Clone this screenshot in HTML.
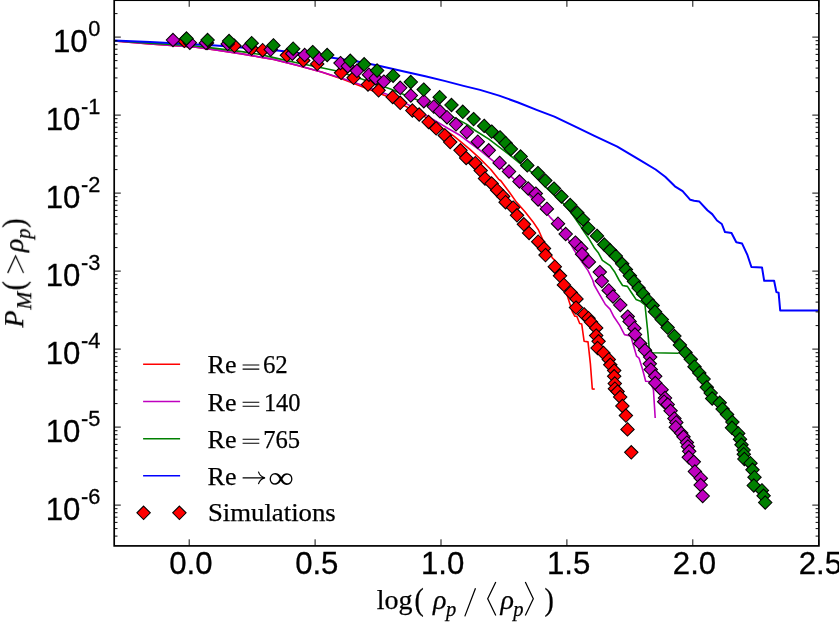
<!DOCTYPE html><html><head><meta charset="utf-8"><style>html,body{margin:0;padding:0;background:#fff}svg{display:block}</style></head><body><svg width="839" height="623" viewBox="0 0 839 623">
<rect width="839" height="623" fill="#fff"/>
<defs><path id="d" d="M0 -6.7L6.7 0L0 6.7L-6.7 0z"/><filter id="n" x="0" y="0" width="100%" height="100%" filterUnits="userSpaceOnUse"><feOffset dx="0" dy="0"/></filter><clipPath id="c"><rect x="114.2" y="0" width="704.7" height="545.9"/></clipPath></defs>
<g clip-path="url(#c)">
<polyline fill="none" stroke="#ff0000" stroke-width="1.6" stroke-linejoin="round" points="113.9,41.0 150.0,44.0 195.9,47.3 215.6,49.9 241.8,53.9 258.8,56.9 273.8,59.5 297.7,65.5 321.5,72.1 342.9,79.3 386.2,96.1 406.5,106.8 425.0,116.9 444.3,129.5 453.9,136.2 460.0,141.1 469.6,149.2 479.2,157.9 490.8,169.5 498.5,179.1 501.0,181.0 509.6,192.5 516.4,202.1 525.0,211.8 532.7,221.4 538.5,230.0 542.7,239.6 552.3,257.9 557.1,262.7 568.2,298.5 572.5,311.9 574.9,316.3 576.8,316.3 579.7,323.5 581.7,324.0 584.1,341.2 588.0,341.9 590.4,363.9 592.3,388.9 594.7,389.1"/>
<polyline fill="none" stroke="#bf00bf" stroke-width="1.6" stroke-linejoin="round" points="113.9,41.0 150.0,44.0 195.9,47.3 215.6,49.9 241.8,53.9 258.8,56.9 273.8,59.4 297.7,65.4 321.5,71.9 348.9,80.4 386.2,93.9 407.7,104.4 428.9,116.9 448.1,128.5 460.0,135.3 469.6,142.5 479.2,149.7 491.8,159.8 502.3,168.5 512.9,178.1 522.1,186.7 531.8,198.3 540.4,206.0 550.0,217.1 561.6,229.1 567.7,238.7 573.5,249.2 581.2,260.8 587.9,270.4 592.7,280.0 594.2,285.0 598.5,292.7 605.2,304.2 610.0,309.1 613.9,316.8 619.7,325.4 624.5,334.6 630.8,336.0 632.7,342.7 636.6,356.2 639.0,358.1 642.4,368.7 645.7,381.2 650.0,381.5 653.4,389.4 655.2,418.0"/>
<polyline fill="none" stroke="#008000" stroke-width="1.6" stroke-linejoin="round" points="113.9,40.7 150.0,43.1 195.9,46.0 215.6,48.4 241.8,51.6 258.8,54.3 273.8,57.6 297.7,63.0 321.5,67.8 335.8,70.8 358.8,78.0 390.5,88.9 401.9,93.8 416.4,99.6 427.9,104.9 454.9,117.9 467.4,124.6 474.4,130.0 488.9,139.1 503.3,150.2 512.0,156.9 519.7,163.2 531.2,171.9 546.2,187.7 563.5,203.6 571.2,212.7 579.9,225.2 584.1,231.9 588.9,238.7 594.7,248.3 598.5,253.1 602.4,260.3 610.1,265.6 614.9,272.3 619.0,280.0 622.6,285.5 627.4,286.4 631.2,292.2 636.0,299.4 639.9,300.9 645.0,305.0 648.1,335.0 649.1,347.5 652.0,352.8 678.7,353.2"/>
<polyline fill="none" stroke="#0000ff" stroke-width="2.0" stroke-linejoin="round" points="113.9,40.4 150.0,42.1 215.6,45.5 241.8,47.4 279.8,50.7 310.0,54.4 333.8,58.0 357.3,61.6 377.7,65.6 406.3,71.9 425.3,76.3 444.4,80.9 463.5,85.9 480.0,89.9 499.1,95.6 518.1,102.5 537.2,110.1 554.4,116.6 575.3,126.7 594.4,135.9 617.3,146.7 640.0,160.1 655.6,169.5 665.2,176.7 674.9,186.3 682.6,191.2 690.3,199.8 694.1,200.8 699.4,201.6 707.4,210.2 712.2,214.1 717.0,220.5 721.8,224.0 725.0,232.1 731.5,233.0 736.3,242.3 742.1,243.6 747.5,255.2 751.4,267.0 762.0,267.4 764.2,280.8 774.1,280.8 776.4,292.1 778.6,292.7 780.2,310.4 818.9,310.4"/>
<g fill="#ff0000" stroke="#000" stroke-width="1.05"><use href="#d" x="184.3" y="40.9"/><use href="#d" x="207.0" y="43.0"/><use href="#d" x="234.4" y="45.8"/><use href="#d" x="251.6" y="48.6"/><use href="#d" x="262.7" y="50.2"/><use href="#d" x="286.9" y="55.3"/><use href="#d" x="303.3" y="60.4"/><use href="#d" x="317.2" y="63.9"/><use href="#d" x="341.1" y="72.8"/><use href="#d" x="353.6" y="77.8"/><use href="#d" x="368.0" y="84.5"/><use href="#d" x="378.6" y="90.3"/><use href="#d" x="392.7" y="97.0"/><use href="#d" x="400.2" y="102.8"/><use href="#d" x="412.4" y="110.5"/><use href="#d" x="419.2" y="114.5"/><use href="#d" x="428.6" y="122.0"/><use href="#d" x="436.2" y="128.4"/><use href="#d" x="444.8" y="135.4"/><use href="#d" x="450.2" y="142.1"/><use href="#d" x="460.5" y="150.3"/><use href="#d" x="466.2" y="158.0"/><use href="#d" x="475.3" y="163.2"/><use href="#d" x="480.7" y="170.6"/><use href="#d" x="485.0" y="178.5"/><use href="#d" x="491.6" y="183.5"/><use href="#d" x="497.2" y="190.2"/><use href="#d" x="503.1" y="196.4"/><use href="#d" x="505.6" y="202.2"/><use href="#d" x="513.1" y="207.6"/><use href="#d" x="517.0" y="215.3"/><use href="#d" x="523.9" y="224.3"/><use href="#d" x="529.1" y="233.0"/><use href="#d" x="538.2" y="241.7"/><use href="#d" x="544.0" y="248.4"/><use href="#d" x="545.5" y="255.1"/><use href="#d" x="554.8" y="266.7"/><use href="#d" x="560.0" y="275.8"/><use href="#d" x="563.9" y="284.9"/><use href="#d" x="570.7" y="292.6"/><use href="#d" x="576.5" y="298.9"/><use href="#d" x="576.0" y="307.6"/><use href="#d" x="584.1" y="314.4"/><use href="#d" x="588.5" y="318.2"/><use href="#d" x="591.0" y="322.0"/><use href="#d" x="596.2" y="327.9"/><use href="#d" x="596.2" y="335.6"/><use href="#d" x="598.6" y="341.3"/><use href="#d" x="597.6" y="348.0"/><use href="#d" x="603.4" y="352.9"/><use href="#d" x="608.8" y="359.4"/><use href="#d" x="610.3" y="364.8"/><use href="#d" x="614.2" y="370.6"/><use href="#d" x="614.2" y="376.3"/><use href="#d" x="614.8" y="383.5"/><use href="#d" x="614.9" y="388.7"/><use href="#d" x="617.6" y="391.6"/><use href="#d" x="620.2" y="397.0"/><use href="#d" x="622.4" y="406.0"/><use href="#d" x="625.9" y="415.6"/><use href="#d" x="627.5" y="429.4"/><use href="#d" x="631.3" y="452.3"/></g>
<g fill="#bf00bf" stroke="#000" stroke-width="1.05"><use href="#d" x="173.0" y="40.0"/><use href="#d" x="189.8" y="42.7"/><use href="#d" x="205.9" y="42.9"/><use href="#d" x="227.7" y="43.9"/><use href="#d" x="248.7" y="46.7"/><use href="#d" x="270.7" y="49.6"/><use href="#d" x="292.3" y="53.7"/><use href="#d" x="304.7" y="55.0"/><use href="#d" x="319.2" y="58.6"/><use href="#d" x="340.5" y="63.1"/><use href="#d" x="347.8" y="66.2"/><use href="#d" x="356.9" y="70.8"/><use href="#d" x="369.0" y="74.7"/><use href="#d" x="375.7" y="78.2"/><use href="#d" x="383.8" y="81.6"/><use href="#d" x="400.2" y="87.8"/><use href="#d" x="410.8" y="95.5"/><use href="#d" x="423.8" y="101.2"/><use href="#d" x="433.8" y="106.6"/><use href="#d" x="440.0" y="111.4"/><use href="#d" x="447.0" y="117.2"/><use href="#d" x="456.0" y="124.3"/><use href="#d" x="466.8" y="132.0"/><use href="#d" x="477.8" y="141.7"/><use href="#d" x="488.8" y="150.3"/><use href="#d" x="499.6" y="162.9"/><use href="#d" x="509.0" y="171.5"/><use href="#d" x="519.5" y="181.5"/><use href="#d" x="528.2" y="188.5"/><use href="#d" x="535.8" y="193.6"/><use href="#d" x="538.1" y="199.5"/><use href="#d" x="546.9" y="208.9"/><use href="#d" x="558.0" y="223.7"/><use href="#d" x="565.7" y="234.0"/><use href="#d" x="575.4" y="242.6"/><use href="#d" x="581.2" y="248.4"/><use href="#d" x="582.1" y="254.2"/><use href="#d" x="588.9" y="261.9"/><use href="#d" x="599.8" y="272.1"/><use href="#d" x="601.8" y="281.1"/><use href="#d" x="608.7" y="290.4"/><use href="#d" x="613.0" y="296.5"/><use href="#d" x="620.3" y="305.0"/><use href="#d" x="627.7" y="316.6"/><use href="#d" x="629.6" y="321.4"/><use href="#d" x="634.4" y="328.2"/><use href="#d" x="635.0" y="334.5"/><use href="#d" x="640.2" y="343.6"/><use href="#d" x="645.0" y="350.3"/><use href="#d" x="650.2" y="357.1"/><use href="#d" x="649.8" y="363.8"/><use href="#d" x="650.8" y="369.6"/><use href="#d" x="655.2" y="376.3"/><use href="#d" x="655.3" y="383.0"/><use href="#d" x="661.6" y="389.7"/><use href="#d" x="665.0" y="398.0"/><use href="#d" x="664.2" y="401.7"/><use href="#d" x="667.7" y="404.5"/><use href="#d" x="670.6" y="410.8"/><use href="#d" x="674.4" y="418.5"/><use href="#d" x="676.3" y="422.4"/><use href="#d" x="675.8" y="427.2"/><use href="#d" x="681.2" y="433.0"/><use href="#d" x="683.5" y="436.8"/><use href="#d" x="686.9" y="442.6"/><use href="#d" x="687.9" y="446.5"/><use href="#d" x="689.2" y="451.3"/><use href="#d" x="688.8" y="457.3"/><use href="#d" x="693.8" y="461.8"/><use href="#d" x="694.9" y="471.5"/><use href="#d" x="700.8" y="478.2"/><use href="#d" x="700.7" y="485.0"/><use href="#d" x="702.7" y="496.0"/></g>
<g fill="#008000" stroke="#000" stroke-width="1.05"><use href="#d" x="186.5" y="38.5"/><use href="#d" x="207.6" y="40.0"/><use href="#d" x="229.1" y="41.0"/><use href="#d" x="251.7" y="43.2"/><use href="#d" x="273.4" y="45.4"/><use href="#d" x="293.2" y="48.7"/><use href="#d" x="312.7" y="52.1"/><use href="#d" x="327.2" y="55.0"/><use href="#d" x="350.3" y="60.8"/><use href="#d" x="364.2" y="64.3"/><use href="#d" x="377.1" y="70.5"/><use href="#d" x="393.1" y="75.7"/><use href="#d" x="410.8" y="82.0"/><use href="#d" x="423.7" y="89.6"/><use href="#d" x="439.7" y="97.2"/><use href="#d" x="451.5" y="105.0"/><use href="#d" x="462.8" y="111.8"/><use href="#d" x="473.6" y="119.1"/><use href="#d" x="484.2" y="125.9"/><use href="#d" x="491.7" y="131.6"/><use href="#d" x="500.0" y="137.4"/><use href="#d" x="505.7" y="143.2"/><use href="#d" x="510.9" y="149.0"/><use href="#d" x="520.6" y="156.5"/><use href="#d" x="527.3" y="165.4"/><use href="#d" x="537.9" y="173.1"/><use href="#d" x="545.3" y="180.6"/><use href="#d" x="554.0" y="188.6"/><use href="#d" x="561.5" y="196.5"/><use href="#d" x="570.2" y="205.0"/><use href="#d" x="577.3" y="212.8"/><use href="#d" x="583.1" y="219.5"/><use href="#d" x="588.3" y="228.2"/><use href="#d" x="597.0" y="235.9"/><use href="#d" x="604.3" y="244.5"/><use href="#d" x="610.1" y="250.3"/><use href="#d" x="615.8" y="256.1"/><use href="#d" x="622.2" y="263.8"/><use href="#d" x="625.9" y="269.6"/><use href="#d" x="629.9" y="275.8"/><use href="#d" x="634.0" y="281.5"/><use href="#d" x="638.6" y="288.1"/><use href="#d" x="643.1" y="293.9"/><use href="#d" x="647.9" y="300.2"/><use href="#d" x="652.7" y="305.6"/><use href="#d" x="655.0" y="311.8"/><use href="#d" x="661.8" y="319.5"/><use href="#d" x="667.6" y="327.6"/><use href="#d" x="674.4" y="336.0"/><use href="#d" x="679.9" y="345.1"/><use href="#d" x="685.5" y="352.6"/><use href="#d" x="690.8" y="359.3"/><use href="#d" x="694.5" y="366.7"/><use href="#d" x="699.3" y="372.9"/><use href="#d" x="703.6" y="379.0"/><use href="#d" x="706.8" y="387.3"/><use href="#d" x="710.7" y="393.0"/><use href="#d" x="712.2" y="398.5"/><use href="#d" x="719.7" y="402.8"/><use href="#d" x="722.6" y="409.1"/><use href="#d" x="727.1" y="414.6"/><use href="#d" x="732.4" y="422.0"/><use href="#d" x="732.0" y="427.8"/><use href="#d" x="738.2" y="433.4"/><use href="#d" x="740.0" y="439.2"/><use href="#d" x="741.5" y="444.8"/><use href="#d" x="743.6" y="450.0"/><use href="#d" x="743.8" y="454.2"/><use href="#d" x="744.4" y="459.0"/><use href="#d" x="750.5" y="463.2"/><use href="#d" x="752.5" y="469.8"/><use href="#d" x="754.5" y="477.2"/><use href="#d" x="753.8" y="485.5"/><use href="#d" x="761.9" y="490.4"/><use href="#d" x="763.6" y="495.8"/><use href="#d" x="765.2" y="502.5"/></g>
</g>
<path d="M189.2 545.9v-6.6M189.2 0.2v6.6M315.1 545.9v-6.6M315.1 0.2v6.6M441.0 545.9v-6.6M441.0 0.2v6.6M566.9 545.9v-6.6M566.9 0.2v6.6M692.8 545.9v-6.6M692.8 0.2v6.6M818.7 545.9v-6.6M818.7 0.2v6.6M114.2 37.1h6.6M818.9 37.1h-6.6M114.2 115.1h6.6M818.9 115.1h-6.6M114.2 193.1h6.6M818.9 193.1h-6.6M114.2 271.1h6.6M818.9 271.1h-6.6M114.2 349.1h6.6M818.9 349.1h-6.6M114.2 427.1h6.6M818.9 427.1h-6.6M114.2 505.1h6.6M818.9 505.1h-6.6" stroke="#000" stroke-width="0.95" fill="none"/>
<path d="M114.2 13.6h3.3M818.9 13.6h-3.3M114.2 91.6h3.3M818.9 91.6h-3.3M114.2 77.9h3.3M818.9 77.9h-3.3M114.2 68.1h3.3M818.9 68.1h-3.3M114.2 60.6h3.3M818.9 60.6h-3.3M114.2 54.4h3.3M818.9 54.4h-3.3M114.2 49.2h3.3M818.9 49.2h-3.3M114.2 44.7h3.3M818.9 44.7h-3.3M114.2 40.7h3.3M818.9 40.7h-3.3M114.2 169.6h3.3M818.9 169.6h-3.3M114.2 155.9h3.3M818.9 155.9h-3.3M114.2 146.1h3.3M818.9 146.1h-3.3M114.2 138.6h3.3M818.9 138.6h-3.3M114.2 132.4h3.3M818.9 132.4h-3.3M114.2 127.2h3.3M818.9 127.2h-3.3M114.2 122.7h3.3M818.9 122.7h-3.3M114.2 118.7h3.3M818.9 118.7h-3.3M114.2 247.6h3.3M818.9 247.6h-3.3M114.2 233.9h3.3M818.9 233.9h-3.3M114.2 224.1h3.3M818.9 224.1h-3.3M114.2 216.6h3.3M818.9 216.6h-3.3M114.2 210.4h3.3M818.9 210.4h-3.3M114.2 205.2h3.3M818.9 205.2h-3.3M114.2 200.7h3.3M818.9 200.7h-3.3M114.2 196.7h3.3M818.9 196.7h-3.3M114.2 325.6h3.3M818.9 325.6h-3.3M114.2 311.9h3.3M818.9 311.9h-3.3M114.2 302.1h3.3M818.9 302.1h-3.3M114.2 294.6h3.3M818.9 294.6h-3.3M114.2 288.4h3.3M818.9 288.4h-3.3M114.2 283.2h3.3M818.9 283.2h-3.3M114.2 278.7h3.3M818.9 278.7h-3.3M114.2 274.7h3.3M818.9 274.7h-3.3M114.2 403.6h3.3M818.9 403.6h-3.3M114.2 389.9h3.3M818.9 389.9h-3.3M114.2 380.1h3.3M818.9 380.1h-3.3M114.2 372.6h3.3M818.9 372.6h-3.3M114.2 366.4h3.3M818.9 366.4h-3.3M114.2 361.2h3.3M818.9 361.2h-3.3M114.2 356.7h3.3M818.9 356.7h-3.3M114.2 352.7h3.3M818.9 352.7h-3.3M114.2 481.6h3.3M818.9 481.6h-3.3M114.2 467.9h3.3M818.9 467.9h-3.3M114.2 458.1h3.3M818.9 458.1h-3.3M114.2 450.6h3.3M818.9 450.6h-3.3M114.2 444.4h3.3M818.9 444.4h-3.3M114.2 439.2h3.3M818.9 439.2h-3.3M114.2 434.7h3.3M818.9 434.7h-3.3M114.2 430.7h3.3M818.9 430.7h-3.3M114.2 536.1h3.3M818.9 536.1h-3.3M114.2 528.6h3.3M818.9 528.6h-3.3M114.2 522.4h3.3M818.9 522.4h-3.3M114.2 517.2h3.3M818.9 517.2h-3.3M114.2 512.7h3.3M818.9 512.7h-3.3M114.2 508.7h3.3M818.9 508.7h-3.3" stroke="#000" stroke-width="0.95" fill="none"/>
<rect x="114.2" y="0.2" width="704.7" height="545.7" fill="none" stroke="#000" stroke-width="1.7"/>
<g filter="url(#n)">
<g font-family="Liberation Sans, sans-serif" fill="#000" stroke="#000" stroke-width="0.3">
<text transform="translate(190.9,574.1) scale(0.990,1)" font-size="31.5" text-anchor="middle">0.0</text>
<text transform="translate(316.8,574.1) scale(0.990,1)" font-size="31.5" text-anchor="middle">0.5</text>
<text transform="translate(442.7,574.1) scale(0.990,1)" font-size="31.5" text-anchor="middle">1.0</text>
<text transform="translate(568.6,574.1) scale(0.990,1)" font-size="31.5" text-anchor="middle">1.5</text>
<text transform="translate(694.5,574.1) scale(0.990,1)" font-size="31.5" text-anchor="middle">2.0</text>
<text transform="translate(820.4,574.1) scale(0.990,1)" font-size="31.5" text-anchor="middle">2.5</text>
<text transform="translate(100.3,51.8) scale(0.990,1)" text-anchor="end" font-size="31.5">10<tspan font-size="22" dx="0.6" dy="-15.6">0</tspan></text>
<text transform="translate(100.3,129.8) scale(0.990,1)" text-anchor="end" font-size="31.5">10<tspan font-size="22" dx="0.6" dy="-15.6">-1</tspan></text>
<text transform="translate(100.3,207.8) scale(0.990,1)" text-anchor="end" font-size="31.5">10<tspan font-size="22" dx="0.6" dy="-15.6">-2</tspan></text>
<text transform="translate(100.3,285.8) scale(0.990,1)" text-anchor="end" font-size="31.5">10<tspan font-size="22" dx="0.6" dy="-15.6">-3</tspan></text>
<text transform="translate(100.3,363.8) scale(0.990,1)" text-anchor="end" font-size="31.5">10<tspan font-size="22" dx="0.6" dy="-15.6">-4</tspan></text>
<text transform="translate(100.3,441.8) scale(0.990,1)" text-anchor="end" font-size="31.5">10<tspan font-size="22" dx="0.6" dy="-15.6">-5</tspan></text>
<text transform="translate(100.3,519.8) scale(0.990,1)" text-anchor="end" font-size="31.5">10<tspan font-size="22" dx="0.6" dy="-15.6">-6</tspan></text>
</g>
<g stroke-width="1.5" fill="none">
<path d="M143.1 364.3H180.1" stroke="#ff0000"/>
<path d="M143.1 401.5H180.1" stroke="#bf00bf"/>
<path d="M143.1 438.7H180.1" stroke="#008000"/>
<path d="M143.1 475.8H180.1" stroke="#0000ff"/>
</g>
<g fill="#ff0000" stroke="#000" stroke-width="1.05"><use href="#d" x="143.6" y="512.8"/><use href="#d" x="179.4" y="512.8"/></g>
<g font-family="Liberation Serif, serif" font-size="26" fill="#000" stroke="#000" stroke-width="0.25">
<text x="207.6" y="373.3">Re</text>
<path d="M242.6 365.0H259.3M242.6 369.1H259.3" stroke-width="1.05" fill="none"/>
<text x="262.9" y="373.3" textLength="24.9" lengthAdjust="spacingAndGlyphs">62</text>
<text x="207.6" y="410.5">Re</text>
<path d="M242.6 402.2H259.3M242.6 406.3H259.3" stroke-width="1.05" fill="none"/>
<text x="263.9" y="410.5" textLength="36.6" lengthAdjust="spacingAndGlyphs">140</text>
<text x="207.6" y="447.5">Re</text>
<path d="M242.6 439.2H259.3M242.6 443.3H259.3" stroke-width="1.05" fill="none"/>
<text x="263.2" y="447.5" textLength="36.9" lengthAdjust="spacingAndGlyphs">765</text>
<text x="207.6" y="484.8">Re</text>
<path d="M242.6 477.9H264.4M258.4 471.6C259.4 475.0 261.8 477.1 265 477.9C261.8 478.7 259.4 480.8 258.4 484.2" stroke-width="1.15" fill="none"/>
<text transform="translate(268.3,487.5) scale(1.38,1.2)" stroke="none">∞</text>
<text x="207.9" y="520.7" textLength="127.9" lengthAdjust="spacingAndGlyphs">Simulations</text>
</g>
<g font-family="Liberation Serif, serif" font-size="28" fill="#000" stroke="#000" stroke-width="0.25">
<text x="376.7" y="609.2">log</text>
<text transform="translate(414.6,602.3) scale(1,1.155) translate(0,6.9)">(</text>
<text x="433" y="609.2" font-style="italic">ρ</text>
<text x="446" y="616" font-style="italic" font-size="20.5">p</text>
<path d="M464.8 616.4L475.5 588.3M495.8 582.1L487.7 598.8L495.8 615.5M525.3 582.1L533.3 598.8L525.3 615.5" stroke-width="1.25" fill="none"/>
<text x="500.5" y="609.2" font-style="italic">ρ</text>
<text x="513.2" y="616" font-style="italic" font-size="20.5">p</text>
<text transform="translate(544.6,602.3) scale(1,1.155) translate(0,6.9)">)</text>
</g>
<g transform="translate(23.1,327.8) rotate(-90)" font-family="Liberation Serif, serif" font-size="28" fill="#000" stroke="#000" stroke-width="0.25">
<text x="0.3" y="0" font-style="italic">P</text>
<text x="18.3" y="7.5" font-style="italic" font-size="21.5">M</text>
<text transform="translate(37.6,-6.9) scale(1,1.155) translate(0,6.9)">(</text>
<path d="M54.8 -15.4L71.8 -7.45L54.8 0.5" stroke-width="1.25" fill="none"/>
<text x="75.8" y="0" font-style="italic">ρ</text>
<text x="89" y="7" font-style="italic" font-size="20.5">p</text>
<text transform="translate(100.0,-6.9) scale(1,1.155) translate(0,6.9)">)</text>
</g>
</g>
</svg></body></html>
